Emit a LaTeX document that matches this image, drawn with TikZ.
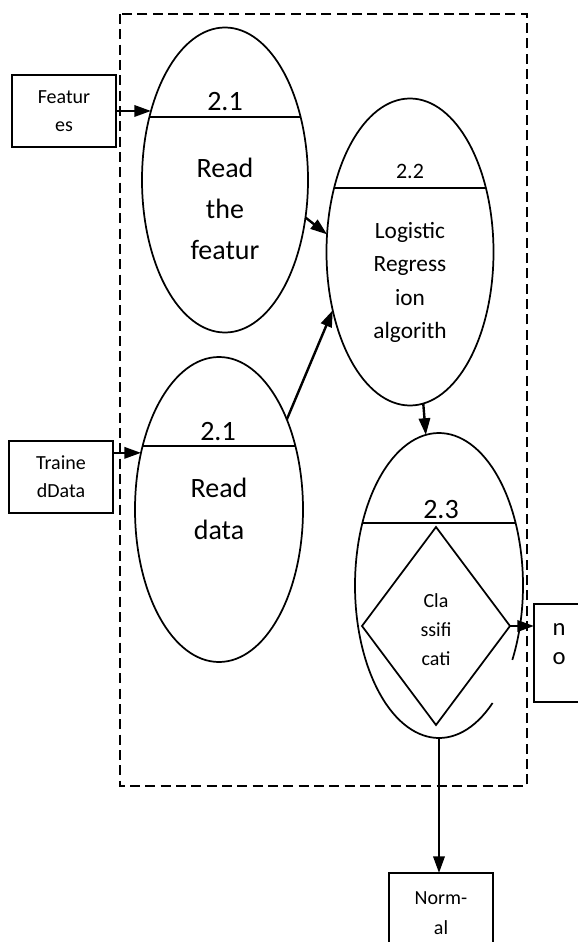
\documentclass[tikz,border=0pt]{standalone}
\usepackage{fontspec}
\setmainfont{Carlito}
\usepackage{tikz}
\usetikzlibrary{shapes.geometric,arrows.meta}

\tikzset{
  proc/.style={ellipse, draw, line width=1.3pt, inner sep=0pt, outer sep=0pt},
  store/.style={rectangle, draw, line width=1.3pt, inner sep=0pt, outer sep=0pt, align=center, font=\fontsize{15}{21}\selectfont},
  flow/.style={line width=1.8pt, -{Triangle[length=12.5pt,width=8.5pt]}},
  pnum/.style={anchor=base, inner sep=0pt, font=\fontsize{21}{25}\selectfont},
  ptxt/.style={inner sep=0pt, align=center},
  chord/.style={line width=1pt},
  boundary/.style={line width=1.4pt, dash pattern=on 7.5pt off 4pt}
}

\begin{document}
\begin{tikzpicture}[x=0.75pt,y=0.75pt,yscale=-1]
  \useasboundingbox (0,0) rectangle (578,942);

  % process boundary
  \draw[boundary] (120,14) rectangle (527,786);

  % processes
  \node[proc, minimum width=124.5pt, minimum height=228.75pt] (rf) at (225,180) {};
  \node[proc, minimum width=125.25pt, minimum height=230.25pt] (lr) at (410,252) {};
  \node[proc, minimum width=126pt, minimum height=228.75pt] (rd) at (219,509.5) {};
  \node[proc, draw=none, minimum width=126pt, minimum height=228.75pt] (cls) at (439,585.5) {};
  % broken outline of 2.3
  \draw[line width=1.3pt] (cls.center) ++(50.4:84 and 152.5) arc[start angle=50.4, end angle=389.2, x radius=84, y radius=152.5];

  % chords
  \draw[chord] (rf.center) ++(-75.6,-63) -- ++(151.2,0);
  \draw[chord] (lr.center) ++(-75.9,-64) -- ++(151.8,0);
  \draw[chord] (rd.center) ++(-76.4,-63.5) -- ++(152.8,0);
  \draw[chord] (cls.center) ++(-76.6,-62.5) -- ++(153.2,0);

  % numbers
  \node[pnum] (num21a) at (225,110) {2.1};
  \node[pnum, font=\fontsize{16.5}{20}\selectfont] (num22) at (410,178) {2.2};
  \node[pnum] (num21b) at (218,440) {2.1};
  \node[pnum] (num23) at (441,518) {2.3};

  % process texts
  \node[ptxt, font=\fontsize{21}{30.75}\selectfont] (rftxt) at (225,209) {Read\\the\\featur};
  \node[ptxt, font=\fontsize{17.5}{25}\selectfont] (lrtxt) at (410,282.5) {Logistic\\Regress\\ion\\algorith};
  \node[ptxt, font=\fontsize{21}{31.5}\selectfont] (rdtxt) at (219,509) {Read\\data};

  % decision
  \node[diamond, draw, line width=1.3pt, inner sep=0pt, outer sep=0pt, minimum width=111pt, minimum height=148.5pt] (dia) at (436,626) {};
  \node[ptxt, font=\fontsize{15}{21.75}\selectfont] (diatxt) at (436,630) {Cla\\ssifi\\cati};

  % external entities
  \node[store, minimum width=78pt, minimum height=54pt] (feat) at (64,111) {Featur\\es};
  \node[store, minimum width=78pt, minimum height=54pt] (trn) at (61,477) {Traine\\dData};
  \node[store, minimum width=60pt, minimum height=73.5pt, anchor=west] (nobox) at (534,653) {};
  \node[ptxt, font=\fontsize{18.5}{21.75}\selectfont] (notxt) at (559,644) {n\\o};
  \node[store, minimum width=78pt, minimum height=60pt, font=\fontsize{15}{22.5}\selectfont] (nrm) at (441,913) {Norm-\\al};

  % flows
  \draw[flow] (feat.east |- rf.137.5) -- (rf.137.5);
  \draw[flow] (trn.east |- rd.144.6) -- (rd.144.6);
  \draw[flow] (rf.-25.7) -- (lr.168.6);
  \draw[flow] (rd.53.4) -- (lr.217.9);
  \draw[flow] (lr.-85.1) -- (cls.95.3);
  \draw[flow] (dia.east) -- (dia.east -| nobox.west);
  \draw[flow] (cls.south) -- (cls.south |- nrm.north);
\end{tikzpicture}
\end{document}
